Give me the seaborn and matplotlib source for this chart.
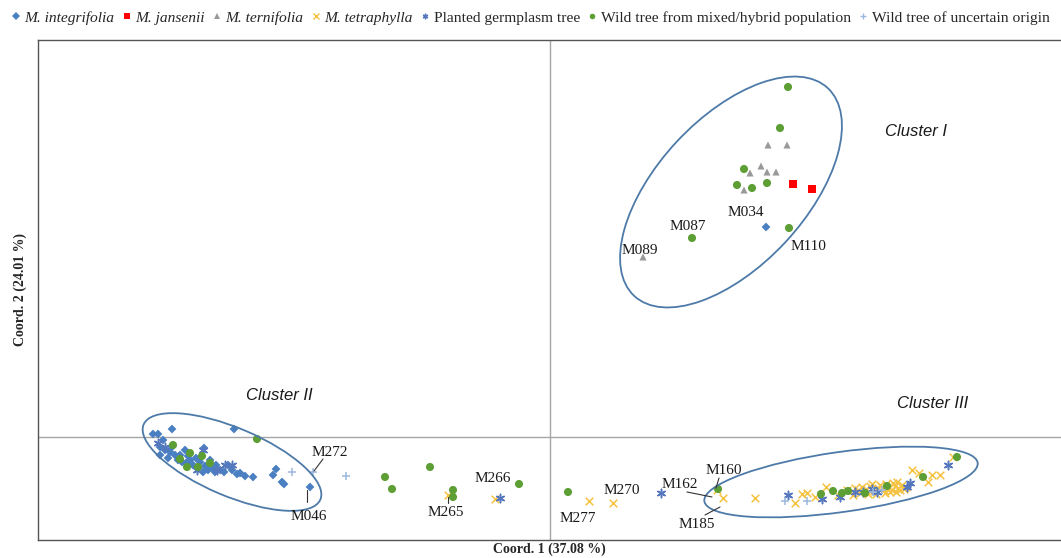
import numpy as np
import pandas as pd
import matplotlib
matplotlib.use("Agg")
import matplotlib.pyplot as plt
import seaborn as sns
from matplotlib.patches import Ellipse
from matplotlib.lines import Line2D

# PCoA scores (arbitrary units, origin at the axis crossing)
integrifolia_x = [-3.97, -3.92, -3.78, -3.16, -3.46, -3.90, -3.13, -2.97, -2.77, -2.74, -2.68, -2.66, -2.40,
                  -3.85, -3.80, -3.75, -3.72, -3.68, -3.64, -3.60, -3.57, -3.53, -3.50, -3.45, -3.42, -3.38,
                  -3.34, -3.30, -3.26, -3.22, -3.18, -3.10, -3.82, -3.70, -3.62, -3.54, -3.40, -3.78, -3.65,
                  -3.35, -3.47, -3.05, -3.90, -3.87, 2.16]
integrifolia_y = [0.03, 0.03, 0.08, 0.08, -0.11, -0.18, -0.37, -0.40, -0.38, -0.32, -0.45, -0.47, -0.50,
                  -0.13, -0.15, -0.18, -0.23, -0.25, -0.26, -0.23, -0.28, -0.31, -0.25, -0.29, -0.33, -0.31,
                  -0.28, -0.33, -0.35, -0.28, -0.33, -0.36, -0.21, -0.18, -0.19, -0.21, -0.23, -0.10, -0.13,
                  -0.35, -0.35, -0.39, -0.10, -0.03, 2.10]

jansenii_x = [2.43, 2.62]
jansenii_y = [2.53, 2.48]

ternifolia_x = [2.18, 2.37, 2.11, 2.00, 2.17, 2.26, 1.94, 0.93]
ternifolia_y = [2.92, 2.92, 2.71, 2.64, 2.65, 2.65, 2.47, 1.80]

tetraphylla_x = [-1.02, -0.55, 0.39, 0.63, 1.67, 1.73, 2.05, 2.45, 2.52, 2.57, 2.65, 2.76, 2.88, 2.97, 3.03,
                 3.05, 3.32, 3.40, 3.43, 3.47, 3.50, 3.62, 3.69, 3.78, 3.82, 3.90, 4.03, 3.08, 3.12, 3.16,
                 3.20, 3.24, 3.28, 3.30, 3.34, 3.36, 3.39, 3.42, 3.45, 3.48, 3.52, 3.54, 3.18, 3.26, 3.35,
                 3.10, 3.22, 3.46, 3.56]
tetraphylla_y = [-0.58, -0.62, -0.64, -0.66, -0.53, -0.61, -0.61, -0.66, -0.57, -0.56, -0.60, -0.50, -0.58,
                 -0.53, -0.58, -0.51, -0.50, -0.55, -0.46, -0.45, -0.53, -0.33, -0.36, -0.45, -0.38, -0.38,
                 -0.20, -0.53, -0.50, -0.52, -0.49, -0.54, -0.51, -0.48, -0.53, -0.47, -0.51, -0.53, -0.49,
                 -0.51, -0.48, -0.52, -0.57, -0.57, -0.56, -0.56, -0.47, -0.55, -0.50]

planted_x = [-3.92, -3.85, -3.47, -3.25, -3.18, -3.53, -3.33, -0.50, 1.11, 2.38, 2.72, 2.90, 3.05, 3.13,
             3.22, 3.27, 3.57, 3.60, 3.98]
planted_y = [-0.06, -0.10, -0.13, -0.28, -0.28, -0.33, -0.33, -0.61, -0.56, -0.58, -0.62, -0.60, -0.55,
             -0.55, -0.52, -0.55, -0.50, -0.46, -0.28]

hybrid_x = [2.38, 2.30, 1.94, 1.87, 2.02, 2.17, 2.39, 1.42, -3.77, -3.60, -3.70, -3.48, -3.63, -3.52, -3.40,
            -2.93, -1.65, -1.58, -1.20, -0.97, -0.97, -0.31, 0.18, 1.68, 2.71, 2.83, 2.92, 2.98, 3.15, 3.37,
            3.73, 4.07]
hybrid_y = [3.50, 3.09, 2.68, 2.52, 2.49, 2.54, 2.09, 1.99, -0.08, -0.16, -0.22, -0.19, -0.30, -0.30, -0.26,
            -0.02, -0.40, -0.52, -0.30, -0.53, -0.60, -0.47, -0.55, -0.52, -0.57, -0.54, -0.56, -0.54, -0.56,
            -0.49, -0.40, -0.20]

uncertain_x = [-2.58, -2.37, -2.04, 2.35, 2.57, 3.23, 3.32]
uncertain_y = [-0.35, -0.35, -0.39, -0.64, -0.64, -0.55, -0.53]

# sample labels: name, text position
label_names = ["M089", "M087", "M034", "M110", "M272", "M046", "M266", "M265",
               "M277", "M270", "M162", "M185", "M160"]
label_tx = [0.90, 1.38, 1.96, 2.58, -2.20, -2.41, -0.57, -1.04, 0.28, 0.72, 1.30, 1.47, 1.74]
label_ty = [1.87, 2.11, 2.24, 1.90, -0.16, -0.79, -0.42, -0.75, -0.81, -0.53, -0.47, -0.88, -0.33]
# leader lines (start x, start y, end x, end y)
leaders = [(-2.36, -0.34, -2.27, -0.22), (-2.43, -0.53, -2.43, -0.65), (-1.02, -0.60, -1.02, -0.66),
           (1.37, -0.55, 1.62, -0.60), (1.55, -0.78, 1.70, -0.70), (1.69, -0.41, 1.66, -0.51)]

groups = [
    ("M. integrifolia", integrifolia_x, integrifolia_y, "D", "#4a7fc1", 20),
    ("M. jansenii", jansenii_x, jansenii_y, "s", "#ff0000", 28),
    ("M. ternifolia", ternifolia_x, ternifolia_y, "^", "#999999", 26),
    ("M. tetraphylla", tetraphylla_x, tetraphylla_y, "x", "#f5c242", 30),
    ("Planted germplasm tree", planted_x, planted_y, (6, 2, 0), "#5577bd", 36),
    ("Wild tree from mixed/hybrid population", hybrid_x, hybrid_y, "o", "#5d9e35", 34),
    ("Wild tree of uncertain origin", uncertain_x, uncertain_y, "+", "#9db8dc", 36),
]

sns.set_style("white")
plt.rcParams["font.family"] = ["Liberation Serif", "DejaVu Serif"]

fig = plt.figure(figsize=(10.61, 5.58), dpi=100)
ax = fig.add_axes([38 / 1061, 18 / 558, 1 - 38 / 1061, 500 / 558])

ax.axhline(0, color="#a6a6a6", lw=1, zorder=0)
ax.axvline(0, color="#a6a6a6", lw=1, zorder=0)

for name, xs, ys, mk, col, sz in groups:
    df = pd.DataFrame({"x": xs, "y": ys})
    if mk in ("x", "+", (6, 2, 0)):
        sns.scatterplot(data=df, x="x", y="y", marker=mk, color=col, s=sz, linewidth=1.1, ax=ax, zorder=3)
    else:
        sns.scatterplot(data=df, x="x", y="y", marker=mk, color=col, s=sz, edgecolor="none", ax=ax, zorder=3)

# cluster ellipses
for cx, cy, w, h, ang in [(1.81, 2.45, 2.84, 1.48, 47), (-3.18, -0.25, 1.92, 0.68, -23),
                          (2.91, -0.45, 2.76, 0.60, 8)]:
    ax.add_patch(Ellipse((cx, cy), w, h, angle=ang, fill=False, ec="#4d7aa8", lw=1.3, zorder=4))

for n, tx, ty in zip(label_names, label_tx, label_ty):
    ax.text(tx, ty, n, fontsize=11, ha="center", va="center", color="#1a1a1a", zorder=5)
for x0, y0, x1, y1 in leaders:
    ax.plot([x0, x1], [y0, y1], color="#333333", lw=0.8, zorder=5)

for t, tx, ty in [("Cluster I", 3.66, 3.06), ("Cluster II", -2.71, 0.41), ("Cluster III", 3.83, 0.33)]:
    ax.text(tx, ty, t, fontsize=12, style="italic", family="Liberation Sans", ha="center", va="center",
            color="#1a1a1a")

ax.set_xlim(-5.12, 5.11)
ax.set_ylim(-1.03, 3.97)
ax.set_xticks([])
ax.set_yticks([])
ax.set_xlabel("Coord. 1 (37.08 %)", fontsize=10, fontweight="bold", labelpad=2)
ax.set_ylabel("Coord. 2 (24.01 %)", fontsize=10, fontweight="bold", labelpad=8)
for sp in ax.spines.values():
    sp.set_color("#555555")
    sp.set_linewidth(1)
ax.spines["right"].set_visible(False)

handles = [Line2D([], [], linestyle="none", marker=g[3], color=g[4], markersize=4,
                  markeredgewidth=1 if g[3] in ("x", "+", (6, 2, 0)) else 0) for g in groups]
leg = fig.legend(handles, [g[0] for g in groups], loc="upper center", bbox_to_anchor=(0.5, 1.0),
                 ncol=7, frameon=False, fontsize=11.15, handlelength=0.6, handletextpad=0.25,
                 columnspacing=0.5, borderaxespad=0.3)
for t in leg.get_texts()[:4]:
    t.set_fontstyle("italic")

fig.savefig("out.png", dpi=100)
